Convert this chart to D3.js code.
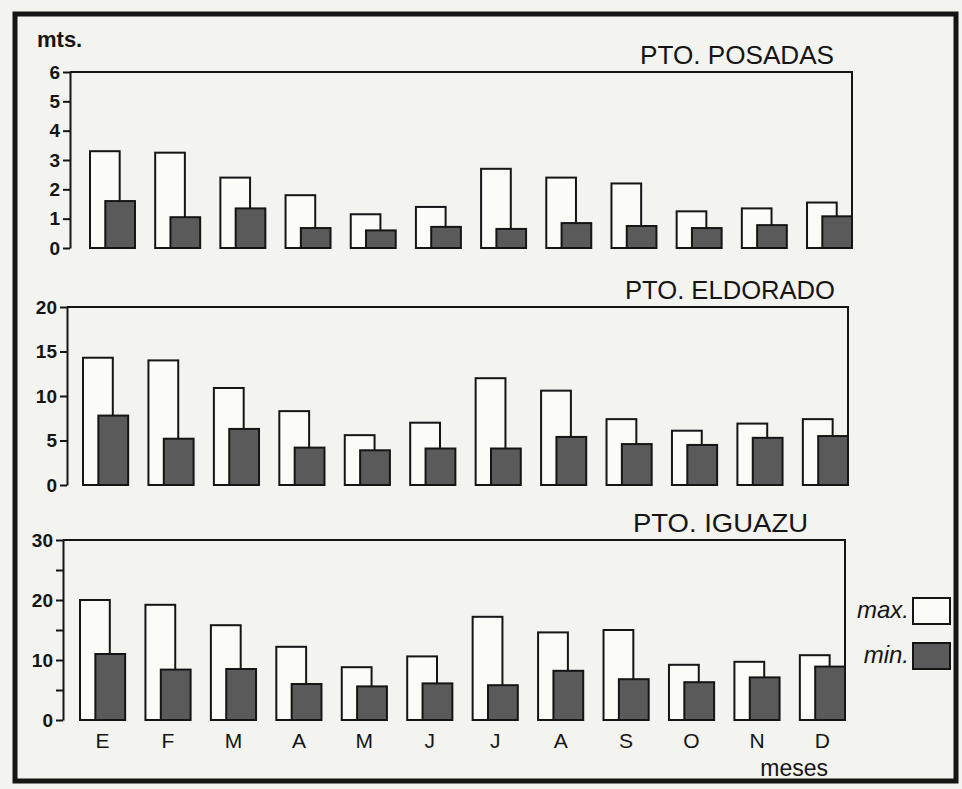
<!DOCTYPE html>
<html><head><meta charset="utf-8">
<script src="https://cdn.jsdelivr.net/npm/d3@7"></script>
<style>html,body{margin:0;padding:0;background:#f3f3f0;} svg{display:block}</style>
</head><body><svg id="c" width="962" height="789"></svg>
<script>
// ---- data ----
const months = ["E","F","M","A","M","J","J","A","S","O","N","D"];
const stations = ["PTO. POSADAS","PTO. ELDORADO","PTO. IGUAZU"];
const posadasMax  = [3.3, 3.25, 2.4, 1.8, 1.15, 1.4, 2.7, 2.4, 2.2, 1.25, 1.35, 1.55];
const posadasMin  = [1.6, 1.05, 1.35, 0.68, 0.6, 0.72, 0.65, 0.85, 0.75, 0.68, 0.78, 1.08];
const eldoradoMax = [14.3, 14.0, 10.9, 8.3, 5.6, 7.0, 12.0, 10.6, 7.4, 6.1, 6.9, 7.4];
const eldoradoMin = [7.8, 5.2, 6.3, 4.2, 3.9, 4.1, 4.1, 5.4, 4.6, 4.5, 5.3, 5.5];
const iguazuMax   = [20.0, 19.2, 15.8, 12.2, 8.8, 10.6, 17.2, 14.6, 15.0, 9.2, 9.7, 10.8];
const iguazuMin   = [11.0, 8.4, 8.5, 6.0, 5.6, 6.1, 5.8, 8.2, 6.8, 6.3, 7.1, 8.9];
const yDomainMax  = [6, 20, 30];
const yTickValues = [[0,1,2,3,4,5,6],[0,5,10,15,20],[0,5,10,15,20,25,30]];
const yTickLabels = [[0,1,2,3,4,5,6],[0,5,10,15,20],[0,10,20,30]];
const unitLabel = "mts.";
const xTitle = "meses";
const legendLabels = ["max.","min."];

const seriesMax = [posadasMax, eldoradoMax, iguazuMax];
const seriesMin = [posadasMin, eldoradoMin, iguazuMin];

// ---- layout ----
const layout = [
  {ax:70, xr:[90,852], top:72,  zero:248, titleX:834, titleY:64,  titleW:194},
  {ax:67, xr:[83,848], top:307, zero:485, titleX:835, titleY:299, titleW:210},
  {ax:63, xr:[80,845], top:540, zero:720, titleX:808, titleY:532, titleW:175}
];
const font = "'Liberation Sans', Arial, sans-serif";
const ink = "#151515";
const minFill = "#5a5a5a";

const svg = d3.select("#c");
svg.append("rect").attr("width",962).attr("height",789).attr("fill","#f3f3f0");
svg.append("rect").attr("x",15).attr("y",14).attr("width",941).attr("height",767)
  .attr("fill","none").attr("stroke",ink).attr("stroke-width",5);

svg.append("text").attr("x",37).attr("y",47).attr("font-family",font)
  .attr("font-size",22).attr("font-weight","bold").attr("fill",ink).text(unitLabel);

layout.forEach((p,i)=>{
  const x = d3.scaleBand().domain(d3.range(months.length)).range(p.xr).paddingInner(0.31).paddingOuter(0);
  const y = d3.scaleLinear().domain([0,yDomainMax[i]]).range([p.zero,p.top]);
  const g = svg.append("g");
  const bw = x.bandwidth();

  g.append("path").attr("d",`M${p.ax},${p.top}H${p.xr[1]}V${p.zero}`)
    .attr("fill","none").attr("stroke",ink).attr("stroke-width",2);

  const labels = new Set(yTickLabels[i]);
  const axis = d3.axisLeft(y).tickValues(yTickValues[i]).tickSize(7).tickSizeOuter(0).tickPadding(3)
    .tickFormat(v => labels.has(v) ? v : "");
  const ag = g.append("g").attr("transform",`translate(${p.ax},0)`).call(axis);
  ag.select(".domain").attr("stroke",ink).attr("stroke-width",2);
  ag.selectAll(".tick line").attr("stroke",ink).attr("stroke-width",2);
  ag.selectAll(".tick text").attr("font-family",font).attr("font-size",19)
    .attr("font-weight","bold").attr("fill",ink);

  g.append("text").attr("x",p.titleX).attr("y",p.titleY).attr("text-anchor","end")
    .attr("font-family",font).attr("font-size",26).attr("fill",ink)
    .attr("textLength",p.titleW).attr("lengthAdjust","spacingAndGlyphs").text(stations[i]);

  g.selectAll("rect.max").data(seriesMax[i]).join("rect").attr("class","max")
    .attr("x",(d,j)=>x(j)).attr("width",bw*0.66)
    .attr("y",d=>y(d)).attr("height",d=>y(0)-y(d))
    .attr("fill","#fbfbf8").attr("stroke",ink).attr("stroke-width",2);
  g.selectAll("rect.min").data(seriesMin[i]).join("rect").attr("class","min")
    .attr("x",(d,j)=>x(j)+bw*0.34).attr("width",bw*0.66)
    .attr("y",d=>y(d)).attr("height",d=>y(0)-y(d))
    .attr("fill",minFill).attr("stroke",ink).attr("stroke-width",2);

  if (i === 2) {
    g.selectAll("text.month").data(months).join("text").attr("class","month")
      .attr("x",(d,j)=>x(j)+bw/2).attr("y",p.zero+28).attr("text-anchor","middle")
      .attr("font-family",font).attr("font-size",21).attr("fill",ink).text(d=>d);
    g.append("text").attr("x",828).attr("y",776).attr("text-anchor","end")
      .attr("font-family",font).attr("font-size",23).attr("fill",ink).text(xTitle);
  }
});

// legend
const lg = svg.append("g");
const legendFills = ["#fbfbf8", minFill];
legendLabels.forEach((t,k)=>{
  const yy = 598 + k*45;
  lg.append("rect").attr("x",913).attr("y",yy).attr("width",37).attr("height",26)
    .attr("fill",legendFills[k]).attr("stroke",ink).attr("stroke-width",2);
  lg.append("text").attr("x",909).attr("y",yy+20).attr("text-anchor","end")
    .attr("font-family",font).attr("font-size",24).attr("font-style","italic")
    .attr("fill",ink).text(t);
});
</script></body></html>
